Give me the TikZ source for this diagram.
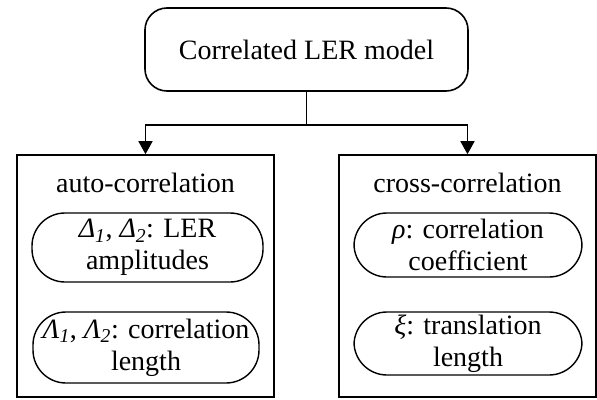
\documentclass[tikz,border=0pt]{standalone}
\usepackage{fontspec}
\setmainfont{Liberation Serif}
\usepackage{tikz}
\usetikzlibrary{arrows.meta}

\newcommand{\gsub}[2]{{\itshape #1\textsubscript{#2}}}

\begin{document}
\begin{tikzpicture}[x=1pt, y=-1pt, line width=1.6pt,
  >={Triangle[length=13pt, width=14pt]},
  txt/.style={font=\fontsize{28}{32}\selectfont, align=center, inner sep=0pt},
  modelbox/.style={txt, draw, rounded corners=22pt, minimum width=323pt, minimum height=83pt},
  groupbox/.style={draw, minimum width=257pt, minimum height=242pt},
  itembox/.style={txt, draw, line width=1.4pt, rounded corners=33pt, minimum width=229pt}]
  \useasboundingbox (0,0) rectangle (597,399);
  % top block
  \node[modelbox] (model) at (306.5,49.5) {Correlated LER model};
  % two groups
  \node[groupbox] (auto) at (145.5,276) {};
  \node[groupbox] (cross) at (467.5,276) {};
  \node[txt] (autotitle) at (145.5,183) {auto-correlation};
  \node[txt] (crosstitle) at (467.5,183) {cross-correlation};
  % items, auto-correlation
  \node[itembox, minimum width=231pt, minimum height=69pt] (amp) at (147.5,247.5)
    {\gsub{Δ}{1}, \gsub{Δ}{2}: LER\\amplitudes};
  \node[itembox, minimum width=226pt, minimum height=71pt] (corrlen) at (146,347.5)
    {\gsub{Λ}{1}, \gsub{Λ}{2}: correlation\\length};
  % items, cross-correlation
  \node[itembox, minimum width=228pt, minimum height=64pt] (coef) at (468,245)
    {{\itshape ρ}: correlation\\coefficient};
  \node[itembox, minimum width=228pt, minimum height=63pt] (translen) at (468,343.5)
    {{\itshape ξ}: translation\\length};
  % split
  \coordinate (split) at (306.5,125);
  \draw (model.south) -- (split);
  \draw[->] (split) -| (auto.north);
  \draw[->] (split) -| (cross.north);
\end{tikzpicture}
\end{document}
